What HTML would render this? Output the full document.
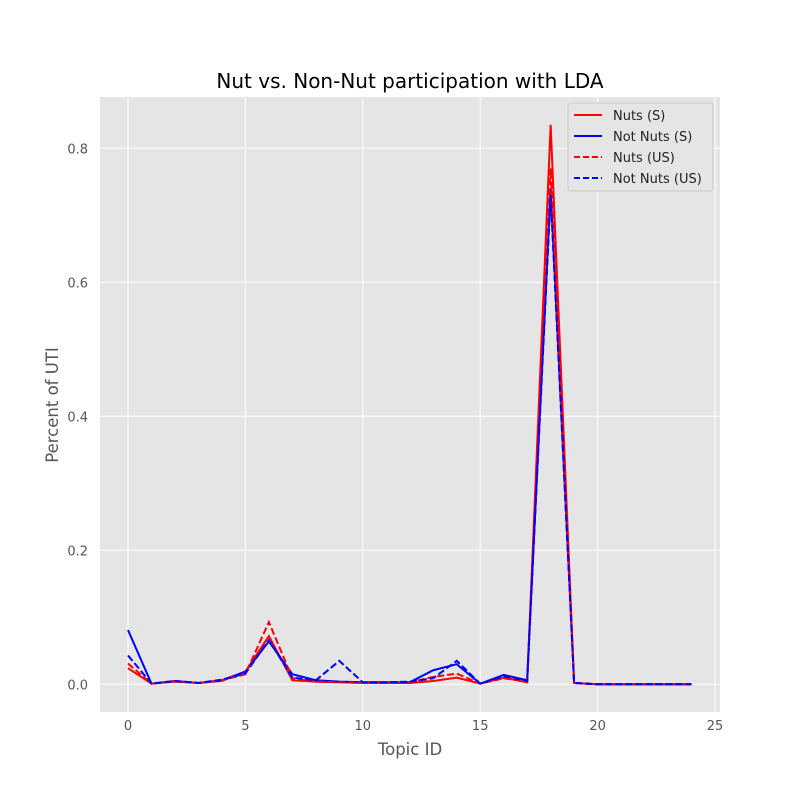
<!DOCTYPE html>
<html><head><meta charset="utf-8"><style>
body{margin:0;background:#fff;font-family:"Liberation Sans","DejaVu Sans",sans-serif;}
svg text{font-family:"DejaVu Sans","Liberation Sans",sans-serif;}
</style></head><body>
<svg id="chart" width="800" height="800">
<rect x="0" y="0" width="800" height="800" fill="#fff"/>
<rect x="100" y="97" width="620" height="615" fill="#e5e5e5"/>
<g id="grid"></g><g id="ticks"></g><g id="series"></g>
<text x="410" y="88" text-anchor="middle" font-size="20" fill="#000">Nut vs. Non-Nut participation with LDA</text>
<text x="410" y="755" text-anchor="middle" font-size="16.5" fill="#555">Topic ID</text>
<text x="58" y="405" text-anchor="middle" font-size="16.5" fill="#555" transform="rotate(-90 58 405)">Percent of UTI</text>
<g id="legend"></g>
</svg>
<script>
const topics=[0,1,2,3,4,5,6,7,8,9,10,11,12,13,14,15,16,17,18,19,20,21,22,23,24];
const nutsS=[0.024,0.001,0.004,0.002,0.005,0.019,0.072,0.006,0.004,0.003,0.002,0.002,0.002,0.005,0.010,0.001,0.010,0.003,0.835,0.002,0.0,0.0,0.0,0.0,0.0];
const notNutsS=[0.081,0.001,0.005,0.002,0.006,0.019,0.064,0.015,0.006,0.004,0.003,0.003,0.003,0.021,0.030,0.001,0.014,0.006,0.740,0.002,0.0,0.0,0.0,0.0,0.0];
const nutsUS=[0.031,0.001,0.005,0.002,0.006,0.015,0.093,0.009,0.004,0.003,0.002,0.002,0.003,0.011,0.016,0.001,0.009,0.004,0.770,0.002,0.0,0.0,0.0,0.0,0.0];
const notNutsUS=[0.043,0.001,0.005,0.002,0.007,0.016,0.066,0.010,0.006,0.035,0.003,0.003,0.004,0.009,0.035,0.001,0.012,0.005,0.730,0.002,0.0,0.0,0.0,0.0,0.0];
const xTicks=[0,5,10,15,20,25];
const yTicks=[0.0,0.2,0.4,0.6,0.8];
const NS="http://www.w3.org/2000/svg";
const xs=v=>128+v*23.48;
const ys=v=>684.3-v*670;
function mk(tag,attrs,parent){const e=document.createElementNS(NS,tag);for(const k in attrs)e.setAttribute(k,attrs[k]);parent.appendChild(e);return e;}
const grid=document.getElementById('grid'),ticks=document.getElementById('ticks');
xTicks.forEach(t=>{
  const l=mk('line',{x1:xs(t),x2:xs(t),y1:97,y2:712,stroke:'#fff','stroke-width':1},grid);
  
  
  const tx=mk('text',{x:xs(t),y:730,'text-anchor':'middle','font-size':13,fill:'#555'},ticks);
  tx.textContent=t;
  
  
});
yTicks.forEach(t=>{
  const l=mk('line',{x1:100,x2:720,y1:ys(t),y2:ys(t),stroke:'#fff','stroke-width':1},grid);
  
  
  const tx=mk('text',{x:88,y:ys(t)+5,'text-anchor':'end','font-size':13,fill:'#555'},ticks);
  tx.textContent=t.toFixed(1);
  
  
});
const series=[[nutsS,'red',null,'nuts-s-line'],[notNutsS,'blue',null,'not-nuts-s-line'],[nutsUS,'red','7,3','nuts-us-line'],[notNutsUS,'blue','7,3','not-nuts-us-line']];
const sg=document.getElementById('series');
series.forEach(s=>{
  const p=mk('polyline',{points:topics.map((t,i)=>xs(t)+','+ys(s[0][i])).join(' '),fill:'none',stroke:s[1],'stroke-width':2},sg);
  if(s[2])p.setAttribute('stroke-dasharray',s[2]);
  
  
});
const lg=document.getElementById('legend');
mk('rect',{x:568,y:103,width:145,height:88,rx:3,fill:'#e5e5e5',stroke:'#ccc','stroke-width':1},lg);
const labels=['Nuts (S)','Not Nuts (S)','Nuts (US)','Not Nuts (US)'];
labels.forEach((lab,i)=>{
  const y=115+i*21;
  const l=mk('line',{x1:574,x2:602,y1:y,y2:y,stroke:series[i][1],'stroke-width':2},lg);
  if(series[i][2])l.setAttribute('stroke-dasharray','6,3');
  
  
  const t=mk('text',{x:613,y:y+5,'font-size':13,fill:'#222'},lg);
  t.textContent=lab;
  
  
});
</script>
</body></html>
